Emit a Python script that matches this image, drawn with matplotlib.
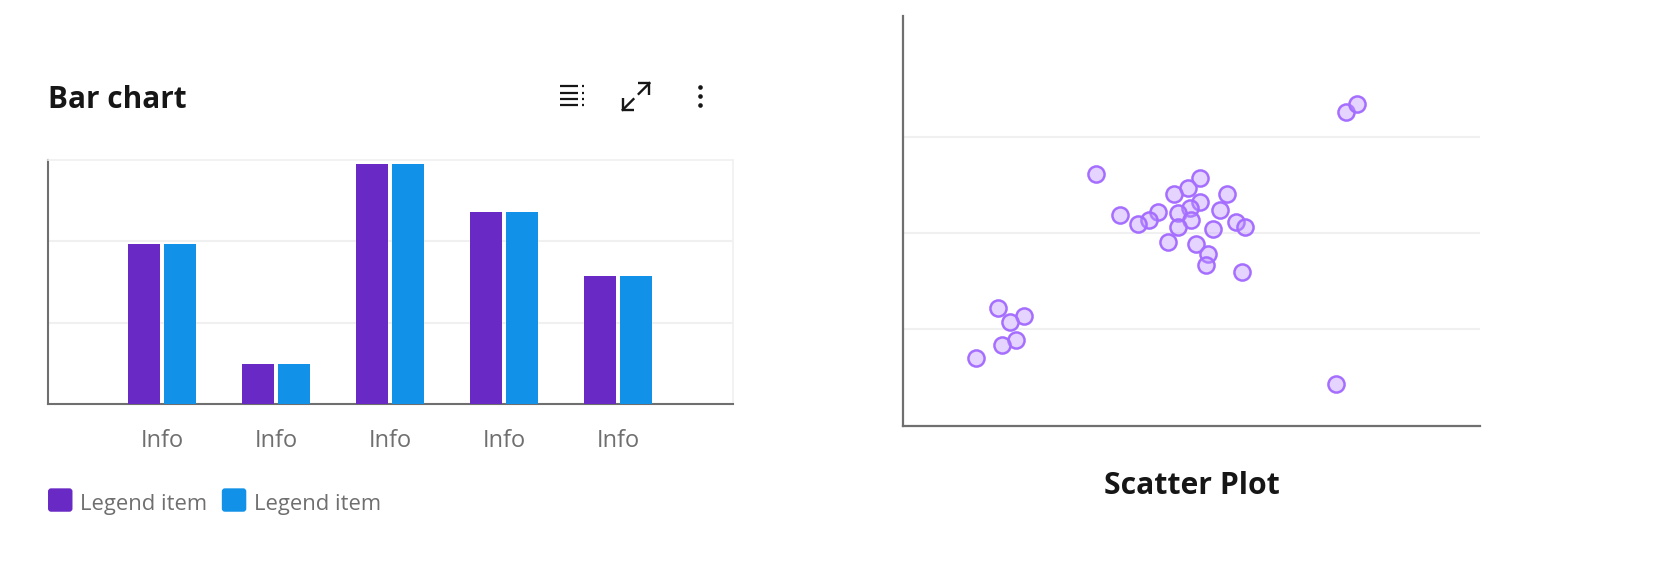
import numpy as np
import matplotlib
matplotlib.use('Agg')
import matplotlib.pyplot as plt
from matplotlib.patches import FancyBboxPatch

############# data ###############################################################

categories = ['Info', 'Info', 'Info', 'Info', 'Info']
series_a = [1.965, 0.49, 2.95, 2.36, 1.57]
series_b = [1.965, 0.49, 2.95, 2.36, 1.57]
legend_labels = ['Legend item', 'Legend item']

scatter_x = [415, 426, 181, 278, 267, 254, 304, 278, 269, 297, 239, 203, 258, 231, 220, 270,
             258, 312, 321, 291, 248, 275, 286, 284, 318, 89, 113, 100, 106, 93, 68, 406]
scatter_y = [295, 302, 237, 233, 224, 218, 218, 211, 205, 203, 201, 198, 200, 194, 190, 194,
             187, 192, 187, 185, 173, 171, 162, 151, 145, 111, 104, 98, 81, 76, 64, 40]
scatter_grid = [91.5, 181.5, 271.5]

############ colours #############################################################

PURPLE = '#6929c4'
BLUE = '#1192e8'
DARK = '#161616'
GRAY = '#6f6f6f'
GRID = '#f0f0f0'
AXIS = '#6f6f6f'

# layout numbers are in a 1568 x 529 frame, scaled to the figure
W, H = 1568.0, 529.0

def add_axes(fig, left, top, right, bottom):
    return fig.add_axes([left / W, 1 - bottom / H, (right - left) / W, (bottom - top) / H])

plt.rcParams['font.family'] = ['Open Sans', 'Noto Sans', 'DejaVu Sans']

fig = plt.figure(figsize=(16.72, 5.64), dpi=100, facecolor='white')

############ bar chart ###########################################################

ax = add_axes(fig, 45, 150, 687, 379)
x = np.arange(len(categories))
ax.bar(x - 0.159, series_a, width=0.28, color=PURPLE, zorder=3)
ax.bar(x + 0.155, series_b, width=0.28, color=BLUE, zorder=3)
ax.set_xlim(-1, 5)
ax.set_ylim(0, 3)
ax.set_xticks(x)
ax.set_xticklabels(categories, fontsize=17, color=GRAY)
ax.set_yticks([1, 2])
ax.set_yticklabels([])
ax.tick_params(length=0)
ax.tick_params(axis='x', pad=18)
ax.grid(axis='y', color=GRID, lw=1.5, zorder=0)
for s in ['top', 'right']:
    ax.spines[s].set_color(GRID)
    ax.spines[s].set_linewidth(1.2)
for s in ['left', 'bottom']:
    ax.spines[s].set_color(AXIS)
    ax.spines[s].set_linewidth(1.5)

############ scatter #############################################################

ax2 = add_axes(fig, 847, 15, 1388, 400)
ax2.scatter(scatter_x, scatter_y, s=135, facecolor=(0.745, 0.584, 1.0, 0.4), edgecolor='#a56eff',
            linewidth=1.8, zorder=3, clip_on=False)
ax2.set_xlim(0, 541)
ax2.set_ylim(0, 385)
ax2.set_xticks([])
ax2.set_yticks(scatter_grid)
ax2.set_yticklabels([])
ax2.tick_params(length=0)
ax2.grid(axis='y', color=GRID, lw=1.5, zorder=0)
ax2.spines['top'].set_visible(False)
ax2.spines['right'].set_visible(False)
for s in ['left', 'bottom']:
    ax2.spines[s].set_color(AXIS)
    ax2.spines[s].set_linewidth(1.6)
ax2.set_xlabel('Scatter Plot', fontsize=21.7, fontweight='bold', color=DARK, labelpad=32)

############ title, icons, legend ################################################

over = fig.add_axes([0, 0, 1, 1], zorder=5)
over.set_xlim(0, W)
over.set_ylim(H, 0)
over.axis('off')

over.text(45, 94, 'Bar chart', fontsize=21.4, fontweight='bold', color=DARK, va='center', ha='left')

# list icon
for yy in [81, 87, 92.8, 98.5]:
    over.plot([525, 542], [yy, yy], color=DARK, lw=1.6, solid_capstyle='butt')
    over.plot([546, 548], [yy, yy], color=DARK, lw=1.6, solid_capstyle='butt')

# expand icon
over.plot([598, 609, 609], [78, 78, 89], color=DARK, lw=1.7, solid_joinstyle='miter', solid_capstyle='butt')
over.plot([599, 609], [88, 78], color=DARK, lw=1.7)
over.plot([584, 584, 595], [92, 103, 103], color=DARK, lw=1.7, solid_joinstyle='miter', solid_capstyle='butt')
over.plot([584, 594], [103, 93], color=DARK, lw=1.7)

# overflow icon
over.scatter([656.5, 656.5, 656.5], [82, 90.5, 98.5], s=11, color=DARK, linewidths=0)

# legend
for left, c, label in zip([45, 208], [PURPLE, BLUE], legend_labels):
    over.add_patch(FancyBboxPatch((left + 1, 459), 21, 20, boxstyle='round,pad=0,rounding_size=2',
                                  mutation_aspect=1, fc=c, ec=c, lw=1.5))
    over.text(left + 30, 473, label, fontsize=15.8, color=GRAY, va='center', ha='left')

fig.savefig('out.png', dpi=100, facecolor='white')
